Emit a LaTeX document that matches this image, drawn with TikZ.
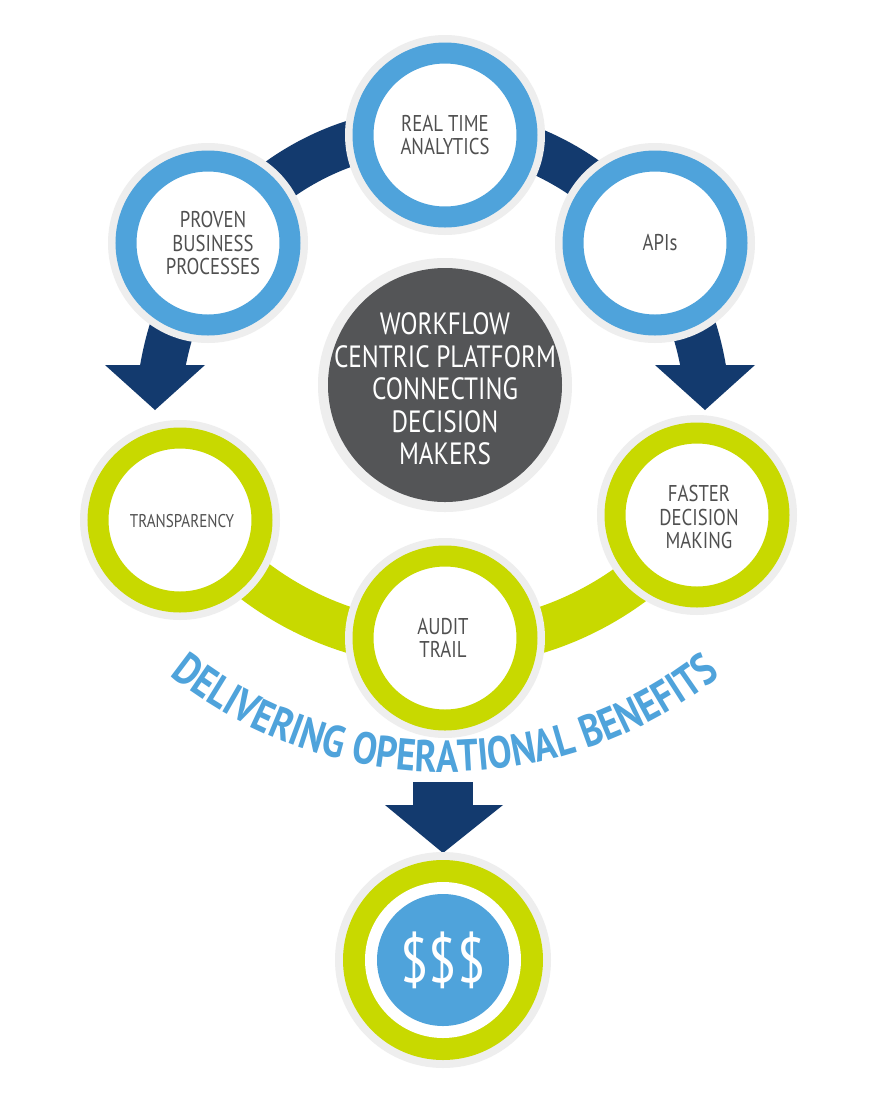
\documentclass[tikz,border=0pt]{standalone}
\usepackage{fontspec}
\setmainfont{PT Sans}[FakeStretch=0.82]
\usetikzlibrary{decorations.text}
\definecolor{navy}{HTML}{133A6E}
\definecolor{sky}{HTML}{4FA3DB}
\definecolor{lime}{HTML}{C8D900}
\definecolor{dgrey}{HTML}{545557}
\definecolor{tgrey}{HTML}{505050}
\definecolor{halo}{HTML}{EEEEEE}
\begin{document}
\begin{tikzpicture}[x=0.02cm,y=-0.02cm,
  lbl/.style={text=tgrey,align=center,font=\fontsize{13}{13.5}\selectfont},
  ring/.style={draw=#1,line width=0.42cm,fill=white}]
\useasboundingbox (0,0) rectangle (880,1113);
\fill[white] (0,0) rectangle (880,1113);
% navy arc
\draw[navy,line width=0.9cm] (433,420) ++(190:275 and 290) arc[start angle=190,end angle=350,x radius=275,y radius=290];
\fill[navy] (105,365) -- (205,365) -- (155,410) -- cycle;
\fill[navy] (655,365) -- (755,365) -- (705,410) -- cycle;
% lime arc
\draw[lime,line width=0.9cm] (445,330) ++(150:315) arc[start angle=150,end angle=30,radius=315];
% down arrow
\fill[navy] (413,782) rectangle (473,806);
\fill[navy] (385,805) -- (503,805) -- (443,853) -- cycle;
% center
\fill[halo] (445,385) circle (127);
\fill[dgrey] (445,385) circle (117);
\node[text=white,align=center,font=\fontsize{17.5}{18.5}\selectfont] (c) at (445,389)
 {WORKFLOW\\CENTRIC PLATFORM\\CONNECTING\\DECISION\\MAKERS};
% blue circles
\foreach \x/\y in {445/135,208/243,655/243}{
  \fill[halo] (\x,\y) circle (100);
  \draw[ring=sky] (\x,\y) circle (82);}
\node[lbl] (rt) at (445,135) {REAL TIME\\ANALYTICS};
\node[lbl] (pb) at (213,243) {PROVEN\\BUSINESS\\PROCESSES};
\node[lbl] (api) at (660,243) {APIs};
% lime circles
\foreach \x/\y in {180/520,445/638,697/515}{
  \fill[halo] (\x,\y) circle (100);
  \draw[ring=lime] (\x,\y) circle (82);}
\node[lbl,font=\fontsize{10.5}{12}\selectfont] (tr) at (182,521) {TRANSPARENCY};
\node[lbl] (at) at (443,638) {AUDIT\\TRAIL};
\node[lbl] (fd) at (699,517) {FASTER\\DECISION\\MAKING};
% text along arc
\path[decorate,decoration={text along path,text align=center,
  text={|\fontsize{25.5}{25}\bfseries\color{sky}|DELIVERING OPERATIONAL BENEFITS}}]
  (445,330) ++(140:442) arc[start angle=140,end angle=40,radius=442];
% $$$
\fill[halo] (443,960) circle (108);
\fill[lime] (443,960) circle (100);
\fill[white] (443,960) circle (78);
\fill[sky] (443,960) circle (66);
\node[text=white,font=\fontsize{36}{36}\selectfont] (d) at (443,960) {\$\$\$};
\end{tikzpicture}
\end{document}
